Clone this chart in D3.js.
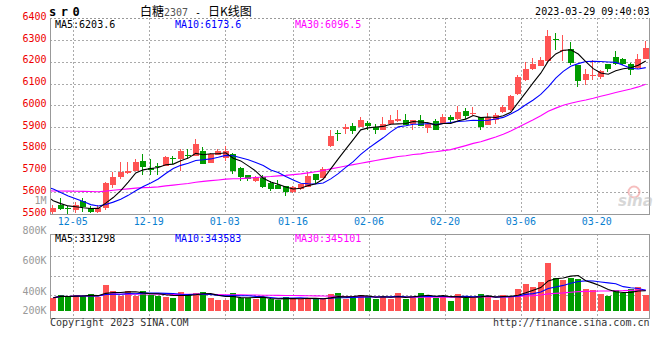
<!DOCTYPE html>
<html>
<head>
<meta charset="utf-8">
<script src="https://cdn.jsdelivr.net/npm/d3@7"></script>
<style>
  body { margin: 0; background: #fff; }
  svg { display: block; }
</style>
</head>
<body>
<div id="chart"></div>
<script>
// SR0 (白糖2307) daily K chart, 2022-11-30 .. 2023-03-29

const dates = ['11-30','12-01','12-02','12-05','12-06','12-07','12-08','12-09','12-12','12-13',
  '12-14','12-15','12-16','12-19','12-20','12-21','12-22','12-23','12-26','12-27',
  '12-28','12-29','12-30','01-03','01-04','01-05','01-06','01-09','01-10','01-11',
  '01-12','01-13','01-16','01-17','01-18','01-19','01-20','01-30','01-31','02-01',
  '02-02','02-03','02-06','02-07','02-08','02-09','02-10','02-13','02-14','02-15',
  '02-16','02-17','02-20','02-21','02-22','02-23','02-24','02-27','02-28','03-01',
  '03-02','03-03','03-06','03-07','03-08','03-09','03-10','03-13','03-14','03-15',
  '03-16','03-17','03-20','03-21','03-22','03-23','03-24','03-27','03-28','03-29'];

const opens = [5508,5543,5526,5517,5560,5529,5508,5526,5635,5668,
  5689,5700,5746,5711,5723,5723,5758,5754,5772,5766,
  5792,5735,5772,5758,5777,5711,5680,5651,5669,5642,
  5634,5628,5600,5615,5626,5685,5666,5815,5872,5889,
  5903,5900,5918,5900,5885,5915,5926,5931,5915,5931,
  5895,5926,5915,5946,5935,5972,5958,5946,5908,5931,
  5969,5977,6054,6115,6166,6180,6203,6305,6249,6257,
  6185,6115,6134,6128,6189,6223,6211,6188,6172,6215];

const highs = [5543,5574,5535,5554,5574,5535,5542,5646,5692,5738,
  5738,5754,5777,5754,5734,5766,5766,5797,5800,5843,
  5808,5780,5800,5815,5780,5715,5680,5677,5680,5651,
  5658,5628,5628,5638,5692,5685,5715,5885,5888,5915,
  5918,5946,5926,5915,5946,5957,5977,5958,5931,5957,
  5923,5938,5958,5954,5997,5988,5992,5946,5966,5966,
  6003,6046,6138,6200,6218,6223,6346,6331,6323,6289,
  6185,6166,6208,6162,6192,6249,6218,6195,6234,6295];

const lows = [5500,5518,5500,5505,5508,5505,5503,5520,5618,5662,
  5685,5697,5680,5680,5680,5720,5731,5700,5752,5766,
  5728,5735,5772,5746,5685,5651,5651,5646,5620,5605,
  5615,5585,5597,5612,5626,5638,5666,5808,5835,5869,
  5869,5900,5885,5869,5885,5908,5923,5908,5885,5903,
  5874,5885,5915,5920,5931,5935,5951,5885,5908,5915,
  5966,5972,6046,6112,6162,6180,6200,6254,6203,6185,
  6085,6092,6115,6123,6154,6185,6185,6138,6166,6215];

const closes = [5526,5523,5522,5542,5531,5508,5526,5642,5671,5692,
  5700,5738,5714,5703,5714,5762,5754,5789,5766,5823,
  5731,5777,5789,5789,5697,5669,5662,5669,5623,5615,
  5615,5600,5623,5638,5677,5658,5708,5858,5866,5900,
  5880,5931,5903,5885,5915,5931,5938,5911,5931,5903,
  5915,5885,5946,5931,5969,5951,5966,5900,5946,5957,
  5992,6042,6131,6169,6188,6208,6318,6298,6255,6195,
  6112,6142,6138,6157,6166,6191,6188,6162,6215,6262];

// closes before the first bar, so the moving averages start at the left edge
const prevCloses = [5535,5530,5545,5560,5540,5535,5550,5555,5545,
  5600,5615,5630,5650,5665,5640,5625,5655,5670,5660,5640,5620,
  5680,5690,5670,5655,5650,
  5590,5575,5560,5555];

const volumes = [218000,263000,235000,263000,246000,280000,235000,430000,330000,251000,
  330000,251000,330000,263000,251000,235000,208000,313000,280000,302000,
  313000,218000,179000,179000,302000,218000,208000,201000,208000,191000,
  179000,235000,208000,191000,218000,191000,191000,280000,296000,196000,
  229000,263000,246000,196000,229000,196000,296000,196000,246000,296000,
  263000,208000,246000,162000,280000,218000,218000,280000,246000,179000,
  263000,246000,363000,447000,397000,481000,804000,543000,514000,553000,
  531000,363000,347000,280000,246000,347000,302000,363000,397000,263000];

const priceTicks = [5500,5600,5700,5800,5900,6000,6100,6200,6300,6400];
const volTicks = [200000,400000,600000,800000,1000000];
const volTickText = ['200K','400K','600K','800K','1M'];
const tickDates = ['12-05','12-19','01-03','01-16','02-06','02-20','03-06','03-20'];

const maPeriods = [5, 10, 30];
const maNames = ['MA5','MA10','MA30'];
const maColors = ['#000000','#0000ff','#ff00ff'];
const priceMaText = ['6203.6','6173.6','6096.5'];
const volMaText = ['331298','343583','345101'];

const W = 660, H = 360;
const left = 50, right = 649.5;
const pTop = 18.3, pBottom = 214;
const vTop = 234.3, vBottom = 318.3, vBase = 310.7;
const RED = '#ff5353', GREEN = '#009c00', GRID = '#aaaaaa', FRAME = '#999999';
const MONO = '"DejaVu Sans Mono", "Liberation Mono", monospace';

const svg = d3.select('#chart').append('svg')
  .attr('width', W).attr('height', H)
  .style('font-family', MONO);

svg.append('rect').attr('width', W).attr('height', H).attr('fill', '#fff');

const n = dates.length;
const xBand = d3.scaleBand().domain(d3.range(n)).range([left - 0.5, right]);
const xGrid = d3.scalePoint().domain(d3.range(n)).range([left, left + 600]);
const step = xBand.step();
// bar centre; also works for index -1 (the day before the first bar)
const cx = i => xBand(0) + step * (i + 0.5);
const y = d3.scaleLinear().domain([5500, 6400]).range([pBottom, pTop]);
const yVol = d3.scaleLinear().domain([0, 1000000]).range([vBase, vBase - 59.7]);
const yVolLabel = d3.scaleLinear().domain([400000, 1000000]).range([294.5, 203.8]);

const isUp = i => closes[i] >= opens[i];

// ---------- grid and frames ----------
const grid = svg.append('g').attr('stroke', GRID).attr('stroke-dasharray', '2,2')
  .attr('shape-rendering', 'crispEdges');

grid.selectAll('.hgrid')
  .data(priceTicks.filter(d => d > 5500))
  .enter().append('line')
  .attr('x1', left).attr('x2', right)
  .attr('y1', d => Math.round(y(d)) + 0.5).attr('y2', d => Math.round(y(d)) + 0.5);

const tickIdx = tickDates.map(d => dates.indexOf(d));

grid.selectAll('.vgrid')
  .data(tickIdx)
  .enter().append('line')
  .attr('x1', i => Math.round(xGrid(i)) + 0.5).attr('x2', i => Math.round(xGrid(i)) + 0.5)
  .attr('y1', pTop).attr('y2', pBottom + 1);

// volume panel grid: four equal bands
const volGridY = d3.range(1, 4).map(k => 236 + k * (315 - 236) / 4);
grid.selectAll('.vhgrid')
  .data(volGridY)
  .enter().append('line')
  .attr('x1', left).attr('x2', right)
  .attr('y1', d => Math.round(d) + 0.5).attr('y2', d => Math.round(d) + 0.5);

grid.selectAll('.vvgrid')
  .data(tickIdx)
  .enter().append('line')
  .attr('x1', i => Math.round(xGrid(i)) + 0.5).attr('x2', i => Math.round(xGrid(i)) + 0.5)
  .attr('y1', vTop).attr('y2', vBottom + 3);

const frame = svg.append('g').attr('stroke', FRAME).attr('shape-rendering', 'crispEdges')
  .attr('fill', 'none');
frame.append('path').attr('d', `M${left + 0.5},${pTop}V${pBottom + 0.5}H${right}V${pTop}`);
frame.append('line').attr('x1', left).attr('x2', right)
  .attr('y1', Math.round(pTop) + 0.5).attr('y2', Math.round(pTop) + 0.5)
  .attr('stroke-dasharray', '2,2');
frame.append('rect').attr('x', left + 0.5).attr('y', Math.round(vTop) + 0.5)
  .attr('width', right - left - 0.5).attr('height', Math.round(vBottom - vTop));

// ---------- watermark ----------
const wm = svg.append('g').attr('opacity', 0.55);
wm.append('circle').attr('cx', 634).attr('cy', 192).attr('r', 5.5)
  .attr('fill', 'none').attr('stroke', '#f08a8a').attr('stroke-width', 2);
wm.append('text').attr('x', 618).attr('y', 206)
  .attr('font-family', 'Verdana, "DejaVu Sans", sans-serif')
  .attr('font-size', 15).attr('font-weight', 'bold').attr('font-style', 'italic')
  .attr('fill', '#b8b8b8').text('sina');

// ---------- candles ----------
const candle = svg.append('g').attr('shape-rendering', 'crispEdges')
  .selectAll('g').data(d3.range(n)).enter().append('g');

candle.append('line')
  .attr('x1', i => Math.round(cx(i)) - 0.5).attr('x2', i => Math.round(cx(i)) - 0.5)
  .attr('y1', i => y(highs[i])).attr('y2', i => y(lows[i]))
  .attr('stroke', i => isUp(i) ? RED : GREEN);

candle.append('rect')
  .attr('x', i => Math.round(cx(i)) - 3)
  .attr('width', 6)
  .attr('y', i => y(Math.max(opens[i], closes[i])))
  .attr('height', i => Math.max(1, Math.abs(y(opens[i]) - y(closes[i]))))
  .attr('fill', i => isUp(i) ? RED : GREEN);

// ---------- moving averages ----------
const allCloses = prevCloses.concat(closes);
const off = prevCloses.length;
function priceMA(p) {
  const pts = [];
  for (let i = -1; i < n; i++) {
    const j = i + off;
    if (j - p + 1 < 0) continue;
    pts.push([i, d3.mean(allCloses.slice(j - p + 1, j + 1))]);
  }
  return pts;
}

svg.append('clipPath').attr('id', 'clipMain')
  .append('rect').attr('x', left + 1).attr('y', pTop).attr('width', right - left - 1).attr('height', pBottom - pTop);

const priceLine = d3.line().x(d => cx(d[0])).y(d => y(d[1]));
const maG = svg.append('g').attr('clip-path', 'url(#clipMain)');
maPeriods.slice().reverse().forEach((p, k) => {
  const idx = maPeriods.length - 1 - k;
  maG.append('path').datum(priceMA(p))
    .attr('d', priceLine).attr('fill', 'none')
    .attr('stroke', maColors[idx]).attr('stroke-width', 1.1);
});

// ---------- volume ----------
svg.append('g').attr('shape-rendering', 'crispEdges')
  .selectAll('rect').data(d3.range(n)).enter().append('rect')
  .attr('x', i => Math.round(cx(i)) - 3)
  .attr('width', 6)
  .attr('y', i => yVol(volumes[i]))
  .attr('height', i => vBase - yVol(volumes[i]))
  .attr('fill', i => isUp(i) ? RED : GREEN);

function volMA(p) {
  return d3.range(n).map(i => [i, d3.mean(volumes.slice(Math.max(0, i - p + 1), i + 1))]);
}
const volLine = d3.line().x(d => cx(d[0])).y(d => yVol(d[1]));
maPeriods.slice().reverse().forEach((p, k) => {
  const idx = maPeriods.length - 1 - k;
  svg.append('path').datum(volMA(p))
    .attr('d', volLine).attr('fill', 'none')
    .attr('stroke', maColors[idx]).attr('stroke-width', 1.1);
});

// ---------- labels ----------
svg.selectAll('.plabel').data(priceTicks).enter().append('text')
  .attr('x', 46.5).attr('y', d => y(d) + 1.5)
  .attr('text-anchor', 'end').attr('font-size', 10).attr('fill', '#ee0000')
  .text(d => d);

svg.selectAll('.vlabel').data(volTicks).enter().append('text')
  .attr('x', 46.5).attr('y', d => Math.min(yVolLabel(d), 314.2))
  .attr('text-anchor', 'end').attr('font-size', 10).attr('fill', '#999')
  .text((d, i) => volTickText[i]);

svg.selectAll('.dlabel').data(tickIdx).enter().append('text')
  .attr('x', i => xGrid(i)).attr('y', 224.5)
  .attr('text-anchor', 'middle').attr('font-size', 10).attr('fill', '#0a80d0')
  .text(i => dates[i]);

const maLabelX = [55, 175, 295];
maNames.forEach((m, k) => {
  svg.append('text').attr('x', maLabelX[k]).attr('y', 27.5)
    .attr('font-size', 10).attr('fill', maColors[k])
    .text(m + ':' + priceMaText[k]);
  svg.append('text').attr('x', maLabelX[k]).attr('y', 242)
    .attr('font-size', 10).attr('fill', maColors[k])
    .text(m + ':' + volMaText[k]);
});

// header
svg.append('text').attr('x', 49).attr('y', 16)
  .attr('font-size', 12).attr('font-weight', 'bold').attr('letter-spacing', 4.5)
  .text('sr0');

const CJK = '"Noto Sans CJK SC", sans-serif';
svg.append('text').attr('x', 140).attr('y', 15.5)
  .attr('font-family', CJK).attr('font-size', 12)
  .text('白糖');
svg.append('text').attr('x', 164).attr('y', 15.5)
  .attr('font-size', 10).attr('fill', '#555')
  .text('2307');
svg.append('text').attr('x', 195).attr('y', 15.5)
  .attr('font-size', 10)
  .text('-');
svg.append('text').attr('x', 208).attr('y', 15.5)
  .attr('font-family', CJK).attr('font-size', 12)
  .text('日K线图');

svg.append('text').attr('x', 649.5).attr('y', 15)
  .attr('text-anchor', 'end').attr('font-size', 10)
  .text('2023-03-29 09:40:03');

// footer
svg.append('text').attr('x', 50).attr('y', 326)
  .attr('font-size', 10).attr('fill', '#333')
  .text('Copyright 2023 SINA.COM');
svg.append('text').attr('x', 649.5).attr('y', 326)
  .attr('text-anchor', 'end').attr('font-size', 10).attr('fill', '#333')
  .text('http://finance.sina.com.cn');
</script>
</body>
</html>
